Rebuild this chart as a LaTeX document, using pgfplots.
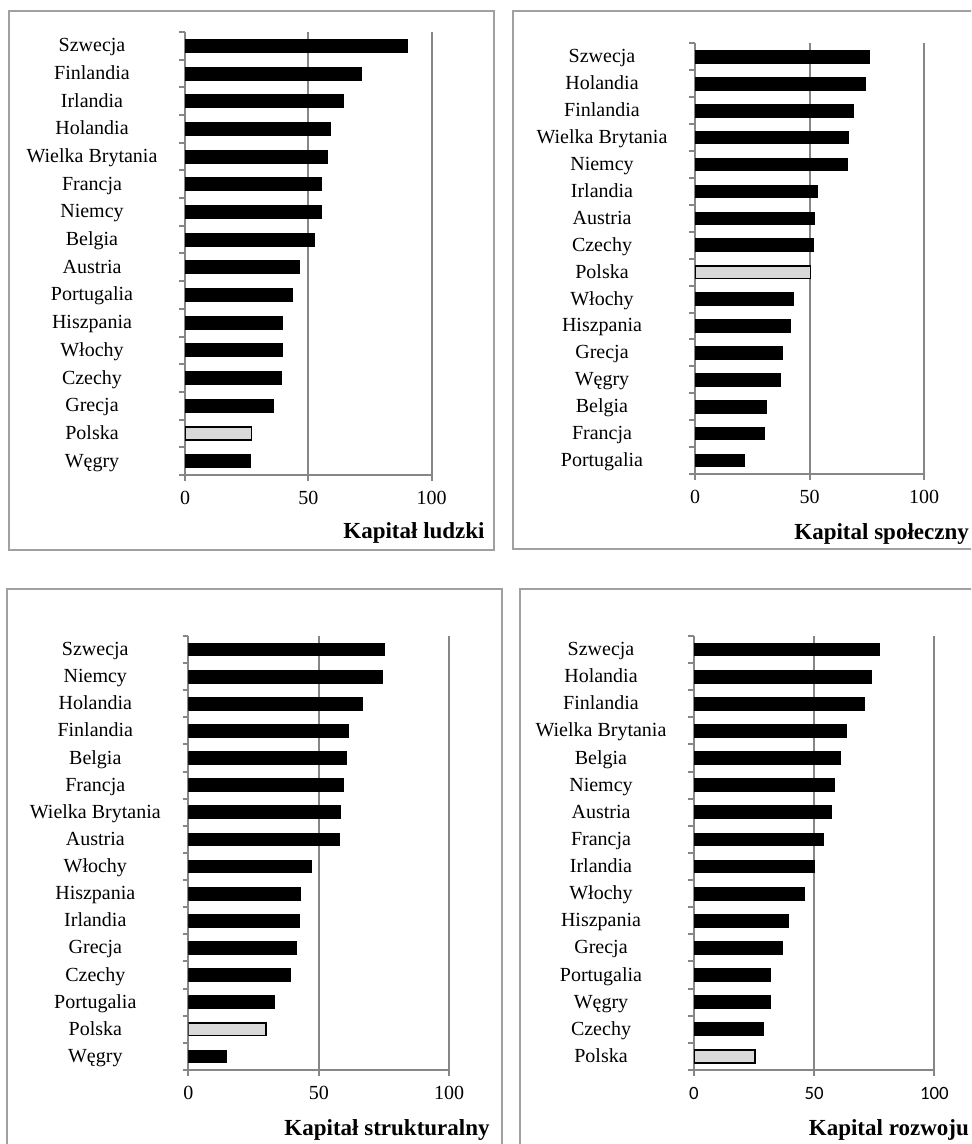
\documentclass[border=0pt]{standalone}
\usepackage{fontspec}
\setmainfont{Liberation Serif}
\newfontfamily\calfont{Carlito}
\usepackage{pgfplots}
\pgfplotsset{compat=1.18}
\definecolor{gridc}{RGB}{134,134,134}
\definecolor{framec}{RGB}{160,160,160}
\definecolor{polc}{RGB}{217,217,217}
\newcommand\lab{\fontsize{10}{11}\selectfont}
\newcommand\ttl{\fontsize{11.5}{13}\selectfont\bfseries}
\pgfplotsset{
  panel/.style={
    scale only axis,
    anchor=south west,
    xmin=0, xmax=100, ymin=-0.5, ymax=15.5,
    axis x line*=bottom, axis y line*=left,
    axis line style={-, gridc, line width=1pt},
    xtick={0,50,100}, xticklabels={0,50,100},
    minor xtick={0,50,100},
    ytick={0,...,15},
    minor ytick={-0.5,0.5,...,15.5},
    tick align=outside,
    major tick length=0pt, minor tick length=2.8pt,
    every tick/.style={gridc, line width=1pt},
    xmajorgrids,
    major grid style={gridc, line width=1pt},
    yticklabel style={anchor=center, xshift=-46.5pt, font=\lab, text height=1.6ex, text depth=0.3ex, inner sep=0pt},
    xticklabel style={anchor=center, yshift=-11.5pt, font=\lab},
  },
  blk/.style={xbar, bar width=0.47, bar shift=0pt, fill=black, draw=black, line width=0.5pt},
  pol/.style={xbar, bar width=0.47, bar shift=0pt, fill=polc, draw=black, line width=0.8pt},
}
\begin{document}
\begin{tikzpicture}
\path[use as bounding box] (0,0) rectangle (485.5pt,572pt);
\clip (0,0) rectangle (485.5pt,572pt);
% frames
\draw[framec, line width=1pt] (4.25pt,566.5pt) rectangle (247.15pt,297pt);
\draw[framec, line width=1pt] (256.65pt,566.5pt) rectangle (500pt,297.25pt);
\draw[framec, line width=1pt] (3.5pt,277.35pt) rectangle (251pt,-10pt);
\draw[framec, line width=1pt] (259.75pt,277.35pt) rectangle (500pt,-10pt);

% Panel 1: Kapital ludzki
\begin{axis}[panel, width=123.35pt, height=221.5pt, at={(92.5pt,334.5pt)},
  yticklabels={Węgry,Polska,Grecja,Czechy,Włochy,Hiszpania,Portugalia,Austria,Belgia,Niemcy,Francja,Wielka Brytania,Holandia,Irlandia,Finlandia,Szwecja}]
\addplot[blk] coordinates {(90.1,15) (71.6,14) (64.2,13) (59.0,12) (57.7,11) (55.3,10) (55.3,9) (52.4,8) (46.6,7) (43.4,6) (39.7,5) (39.4,4) (39.0,3) (35.8,2) (26.5,0)};
\addplot[pol] coordinates {(27.0,1)};
\end{axis}

% Panel 2: Kapital spoleczny
\begin{axis}[panel, width=114.5pt, height=215.25pt, at={(347.5pt,335pt)},
  yticklabels={Portugalia,Francja,Belgia,Węgry,Grecja,Hiszpania,Włochy,Polska,Czechy,Austria,Irlandia,Niemcy,Wielka Brytania,Finlandia,Holandia,Szwecja}]
\addplot[blk] coordinates {(76.4,15) (74.6,14) (69.1,13) (67.2,12) (66.7,11) (53.3,10) (52.1,9) (51.7,8) (43.1,6) (41.8,5) (38.2,4) (37.5,3) (31.4,2) (30.2,1) (21.6,0)};
\addplot[pol] coordinates {(50.4,7)};
\end{axis}

% Panel 3: Kapital strukturalny
\begin{axis}[panel, width=130.45pt, height=217pt, at={(94.15pt,37pt)},
  yticklabels={Węgry,Polska,Portugalia,Czechy,Grecja,Irlandia,Hiszpania,Włochy,Austria,Wielka Brytania,Francja,Belgia,Finlandia,Holandia,Niemcy,Szwecja}]
\addplot[blk] coordinates {(75.1,15) (74.3,14) (66.6,13) (61.4,12) (60.7,11) (59.5,10) (58.4,9) (57.9,8) (47.3,7) (43.1,6) (42.5,5) (41.3,4) (39.3,3) (32.9,2) (14.8,0)};
\addplot[pol] coordinates {(29.7,1)};
\end{axis}

% Panel 4: Kapital rozwoju
\begin{axis}[panel, width=120.15pt, height=217pt, at={(347pt,37pt)},
  xticklabel style={font=\calfont\fontsize{9.4}{11}\selectfont},
  yticklabels={Polska,Czechy,Węgry,Portugalia,Grecja,Hiszpania,Włochy,Irlandia,Francja,Austria,Niemcy,Belgia,Wielka Brytania,Finlandia,Holandia,Szwecja}]
\addplot[blk] coordinates {(77.1,15) (73.75,14) (70.8,13) (63.3,12) (60.8,11) (58.6,10) (57.2,9) (54.0,8) (50.3,7) (46.0,6) (39.2,5) (36.8,4) (31.8,3) (31.7,2) (28.9,1)};
\addplot[pol] coordinates {(25.4,0)};
\end{axis}

% titles
\node[anchor=base east, inner sep=0pt, font=\ttl] at (242.5pt,302.5pt) {Kapitał ludzki};
\node[anchor=base east, inner sep=0pt, font=\ttl] at (484.6pt,302.4pt) {Kapital społeczny};
\node[anchor=base east, inner sep=0pt, font=\ttl] at (245pt,4.5pt) {Kapitał strukturalny};
\node[anchor=base east, inner sep=0pt, font=\ttl] at (484.6pt,4.5pt) {Kapital rozwoju};
\end{tikzpicture}
\end{document}
